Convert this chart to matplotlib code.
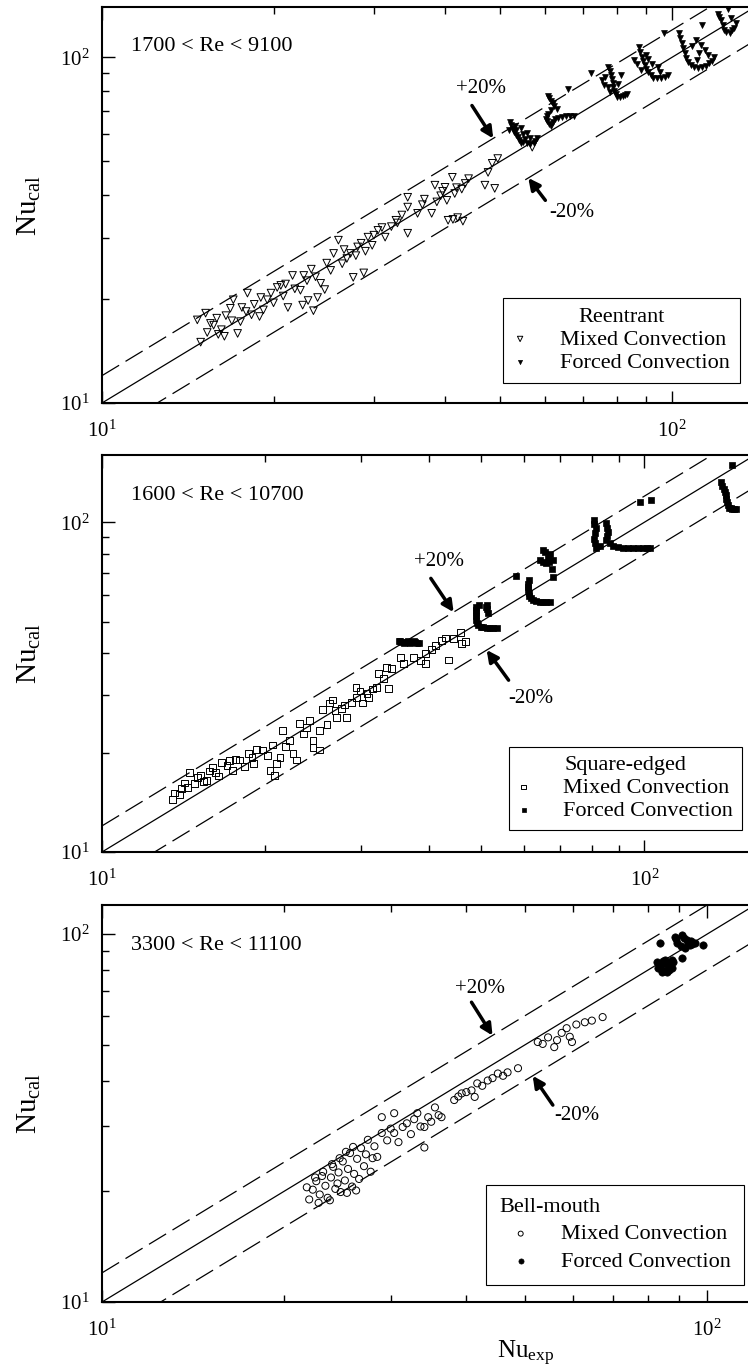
import numpy as np
import matplotlib
matplotlib.use("Agg")
import matplotlib.pyplot as plt
from matplotlib.ticker import LogLocator, NullFormatter

plt.rcParams['font.family'] = ['Liberation Serif', 'DejaVu Serif']
plt.rcParams['mathtext.fontset'] = 'custom'
plt.rcParams['mathtext.rm'] = 'Liberation Serif'
plt.rcParams['mathtext.it'] = 'Liberation Serif:italic'

# ---- Reentrant inlet ----
re_mixed_x = [14.9, 14.7, 15.2, 15.7, 15.3, 15.9, 16.2, 16.5, 16.8, 16.4, 17.0, 17.3, 17.5, 17.9,
              18.0, 18.5, 18.9, 19.5, 19.8, 20.3, 20.8, 21.2, 21.6, 21.0, 22.3, 22.5, 23.0, 22.9,
              23.3, 23.5, 23.9, 24.2, 24.6, 25.2, 25.5, 26.0, 26.4, 26.9, 27.3, 27.6, 28.1, 28.8,
              29.3, 29.8, 30.5, 31.4, 32.2, 33.0, 33.6, 34.4, 34.4, 34.4, 35.8, 36.5, 37.9, 38.4,
              38.7, 39.3, 40.0, 40.3, 40.5, 41.2, 41.6, 41.3, 42.1, 42.8, 43.4, 43.0, 47.0, 47.6,
              48.4, 48.9, 56.9,
              15.5, 16.0, 16.9, 17.6, 18.3, 19.0, 19.2, 20.0, 20.6, 21.8, 22.6, 23.7, 24.8, 26.6,
              27.9, 28.5, 29.0, 30.0, 31.0, 32.8, 36.8, 39.6, 41.9, 44.0, 49.5]
re_mixed_y = [15.0, 17.4, 18.2, 16.8, 16.0, 17.6, 16.3, 17.9, 18.8, 15.6, 19.9, 15.9, 17.2, 18.4,
              20.8, 19.3, 17.8, 19.9, 20.8, 21.6, 20.4, 18.9, 23.4, 22.1, 21.2, 19.2, 19.8, 22.6,
              24.4, 18.5, 20.2, 22.2, 21.3, 24.2, 27.1, 29.6, 25.3, 26.2, 27.1, 23.1, 28.3, 23.8,
              30.2, 28.6, 31.6, 30.2, 32.4, 33.2, 35.0, 39.4, 36.9, 31.0, 35.4, 37.5, 35.4, 42.7,
              38.2, 39.8, 42.1, 38.6, 33.8, 45.0, 40.4, 34.0, 34.4, 41.6, 43.2, 33.6, 42.7, 46.5,
              49.4, 41.8, 55.0,
              17.0, 15.8, 17.3, 18.9, 18.0, 20.2, 18.6, 19.5, 21.9, 21.4, 23.4, 23.2, 25.4, 27.8,
              26.7, 29.0, 27.5, 30.6, 32.2, 33.8, 38.9, 41.0, 42.0, 44.6, 51.0]
re_forced_x = [52.3, 52.9, 53.7, 54.4, 55.8, 57.2, 58.1, 54.4, 55.8,
               52.0, 52.6, 53.2, 53.9, 54.9, 56.5, 57.6, 53.0, 54.8, 56.3, 51.8, 53.3, 55.2,
               60.7, 61.5, 62.2, 60.7, 60.2, 60.9, 63.1, 65.2, 67.4, 65.8, 72.2,
               61.0, 61.9, 61.4, 60.4, 60.5, 61.8, 62.5, 64.2, 66.3, 62.9, 61.3,
               77.4, 78.2, 78.9, 79.1, 80.3, 82.1, 75.4, 77.4, 81.4, 83.6,
               77.8, 78.6, 79.0, 79.7, 81.2, 76.4, 78.0, 80.5, 82.8, 76.2,
               87.5, 88.6, 89.6, 91.0, 92.8, 95.9, 98.6, 86.0, 91.0, 94.7, 97.0,
               88.0, 89.1, 90.3, 91.9, 94.3, 97.2, 87.0, 88.3, 92.5, 95.5, 90.0,
               102.9, 104.3, 105.3, 106.6, 109.6, 113.0, 116.4, 110.1, 111.8, 114.4, 118.8, 113.0,
               103.6, 104.8, 106.0, 108.0, 111.3, 114.7, 108.5, 110.8, 116.0, 112.5, 117.5,
               120.6, 122.0, 123.5, 126.7, 125.7, 128.5, 121.2, 122.8, 124.5, 127.5, 127.0, 129.5]
re_forced_y = [63.6, 60.7, 58.7, 56.7, 56.4, 56.7, 58.3, 62.7, 60.3,
               65.0, 62.0, 59.8, 57.8, 56.9, 56.2, 57.5, 63.2, 60.2, 58.4, 61.5, 61.8, 58.0,
               77.6, 75.0, 72.6, 68.8, 66.5, 64.3, 67.0, 67.9, 67.9, 81.3, 89.9,
               76.5, 73.8, 70.4, 67.6, 65.4, 65.0, 66.5, 67.4, 67.8, 70.8, 63.2,
               93.6, 88.8, 84.1, 80.2, 76.6, 77.6, 85.9, 82.0, 88.8, 78.6,
               91.2, 86.5, 82.2, 78.4, 77.0, 88.0, 79.5, 84.0, 78.0, 83.5,
               106.9, 100.0, 95.0, 90.5, 87.5, 87.5, 88.8, 98.2, 99.3, 93.6, 117.4,
               103.5, 97.5, 92.7, 88.9, 87.4, 88.1, 95.5, 92.0, 96.0, 91.0, 102.0,
               117.4, 109.8, 102.9, 96.8, 93.6, 93.6, 96.1, 112.0, 102.9, 105.0, 100.0, 123.8,
               113.5, 106.2, 99.8, 95.0, 93.5, 94.5, 108.0, 98.5, 101.5, 109.0, 98.0,
               134.0, 128.0, 119.8, 117.4, 138.4, 122.1, 131.0, 123.8, 118.5, 120.0, 130.0, 126.0]

# ---- Square-edged inlet ----
sq_mixed_x = [13.5, 13.6, 13.9, 14.0, 14.2, 14.5, 14.8, 15.2, 15.4, 15.6, 15.8, 16.0, 16.4, 16.6,
              17.0, 17.4, 17.6, 17.9, 18.3, 18.9, 19.3, 19.8, 20.2, 20.6, 20.4, 20.8, 21.0, 21.5,
              21.8, 22.2, 22.5, 22.8, 23.1, 23.5, 24.1, 24.5, 24.5, 25.2, 25.2, 25.5, 26.0, 26.3,
              26.6, 27.1, 27.6, 28.2, 28.8, 29.4, 29.5, 30.2, 30.8, 31.5, 32.1, 32.4, 33.5, 33.8,
              34.2, 35.5, 36.0, 39.5, 39.5, 41.2, 42.3, 43.0, 43.5, 45.8, 46.0, 46.8,
              14.4, 15.0, 16.2, 17.2, 18.6, 19.0, 21.3, 23.8, 26.9, 28.0, 29.9, 31.0, 33.0, 37.5,
              38.6, 40.5, 44.5]
sq_mixed_y = [14.4, 15.1, 14.9, 15.6, 16.2, 17.4, 16.1, 17.1, 16.4, 16.5, 17.6, 18.0, 17.0, 18.7,
              18.3, 17.7, 19.1, 19.0, 18.2, 19.4, 20.5, 20.4, 19.6, 21.1, 17.7, 17.1, 18.6, 23.4,
              20.9, 21.8, 19.9, 19.0, 24.6, 22.8, 25.1, 21.8, 20.8, 23.4, 20.4, 27.0, 24.3, 28.3,
              28.9, 25.6, 27.2, 25.6, 28.4, 31.6, 29.5, 28.3, 30.3, 31.2, 31.6, 34.8, 36.3, 31.4,
              36.1, 39.0, 37.3, 40.1, 37.3, 42.4, 43.9, 44.6, 38.2, 46.4, 43.0, 43.6,
              15.7, 16.8, 17.4, 18.9, 19.9, 18.6, 19.4, 23.9, 26.8, 27.9, 30.8, 29.4, 33.5, 38.8,
              38.0, 41.2, 44.5]
sq_forced_x = [35.3, 35.8, 36.3, 36.8, 37.3, 37.8, 38.4, 35.5, 36.0, 36.6, 37.0, 37.6, 38.1,
               49.0, 49.0, 49.0, 49.4, 50.5, 52.0, 53.4, 51.2, 51.4,
               49.0, 49.0, 49.2, 49.9, 51.3, 52.7, 51.3, 51.0, 49.6,
               61.2, 60.9, 61.2, 61.7, 63.2, 65.0, 67.0, 65.0, 67.0, 64.2, 65.8, 67.8, 67.8, 58.0,
               61.0, 61.0, 61.4, 62.4, 64.1, 66.0, 65.5, 66.4, 66.8, 65.0, 67.5,
               80.6, 81.3, 80.6, 81.6, 85.1, 85.8, 85.1, 87.6, 91.4, 95.3, 99.5, 102.5, 98.3, 102.9,
               80.9, 81.0, 81.1, 85.5, 85.4, 86.3, 89.5, 93.3, 97.4, 101.0, 83.0,
               138.6, 140.0, 141.5, 141.8, 143.3, 145.2, 147.8, 145.2,
               139.3, 140.7, 141.6, 142.5, 144.2, 146.5]
sq_forced_y = [43.5, 43.4, 43.3, 43.3, 43.2, 43.2, 43.1, 43.6, 43.1, 43.6, 43.0, 43.5, 43.0,
               55.3, 53.1, 50.5, 48.7, 48.0, 47.7, 47.7, 56.1, 53.1,
               54.2, 51.8, 49.6, 48.3, 47.8, 47.7, 54.6, 55.5, 56.0,
               66.7, 63.6, 60.9, 58.8, 57.6, 57.3, 57.3, 82.3, 80.4, 76.7, 75.1, 76.7, 68.2, 68.9,
               65.2, 62.2, 59.8, 58.0, 57.4, 57.3, 81.3, 78.0, 75.8, 75.9, 72.0,
               101.6, 95.9, 89.2, 83.6, 99.5, 93.2, 88.2, 85.0, 83.6, 83.6, 83.6, 83.6, 115.0, 116.6,
               98.7, 92.5, 86.4, 96.3, 90.7, 86.5, 84.3, 83.6, 83.6, 83.6, 84.5,
               132.2, 126.4, 120.9, 115.0, 110.5, 110.0, 110.0, 148.8,
               129.3, 123.6, 118.0, 112.7, 110.2, 110.0]

# ---- Bell-mouth inlet ----
bm_mixed_x = [22.0, 22.3, 22.6, 22.9, 23.1, 23.4, 23.6, 23.9, 24.1, 24.3, 24.6, 24.8, 25.0, 25.2,
              25.5, 25.7, 25.9, 26.1, 26.4, 26.6, 26.8, 27.1, 27.3, 27.5, 27.8, 28.0, 28.2, 28.5,
              22.5, 23.2, 24.0, 24.7, 25.3, 26.0, 21.8, 22.8, 23.8, 24.5, 25.4, 26.3,
              29.0, 29.0, 29.6, 30.0, 30.4, 30.4, 30.9, 31.4, 31.9, 32.4, 32.8, 33.2, 33.6, 34.1,
              34.6, 35.0, 35.5, 36.0, 36.4, 34.1,
              38.2, 38.8, 39.3, 40.0, 40.8, 41.3, 41.7, 42.5, 43.4, 44.2, 45.1, 46.0, 46.8, 48.7,
              52.5, 53.5, 54.6, 55.9, 56.5, 57.5, 58.6, 59.3, 59.8, 60.8, 62.8, 64.5, 67.2]
bm_mixed_y = [19.0, 20.2, 21.3, 19.6, 22.0, 20.7, 19.2, 21.8, 23.3, 20.3, 22.5, 19.9, 24.1, 21.4,
              23.0, 25.4, 20.6, 22.3, 24.5, 21.6, 26.2, 23.4, 25.2, 27.6, 22.6, 24.6, 26.5, 24.8,
              21.8, 22.6, 23.7, 24.6, 25.6, 26.4, 20.5, 18.6, 18.9, 21.0, 19.8, 20.1,
              28.8, 31.8, 27.5, 29.6, 32.6, 28.8, 27.2, 29.9, 30.6, 28.6, 31.4, 32.6, 30.0, 29.9,
              31.8, 30.9, 33.8, 32.2, 31.8, 26.3,
              35.4, 36.2, 36.9, 37.2, 37.6, 36.1, 39.3, 38.7, 40.0, 40.6, 41.8, 41.2, 42.1, 43.2,
              50.9, 50.3, 52.4, 49.3, 51.5, 53.9, 55.5, 52.6, 50.9, 56.8, 57.6, 58.2, 59.5]
bm_forced_x = [82.6, 83.0, 84.3, 85.9, 87.5, 85.3, 87.5, 86.2, 84.0,
               88.4, 90.8, 92.6, 93.6, 95.5, 91.9, 89.1, 94.2,
               83.6, 98.5, 90.8,
               83.5, 85.0, 86.6, 84.5, 86.4, 89.0, 91.7, 93.1, 94.5, 90.5, 88.0]
bm_forced_y = [83.9, 80.8, 78.7, 78.7, 80.8, 85.0, 85.0, 82.0, 82.5,
               98.2, 99.4, 96.3, 93.3, 94.5, 91.6, 94.5, 96.0,
               94.5, 93.3, 86.0,
               82.3, 79.5, 79.8, 84.6, 83.5, 97.0, 97.8, 94.8, 93.8, 93.0, 84.0]

panels = [
    dict(top=7, bottom=403, lim=140, re_text='1700 < Re < 9100', name='Reentrant',
         mx=re_mixed_x, my=re_mixed_y, fx=re_forced_x, fy=re_forced_y,
         m_marker='v', f_marker='v', m_size=30, f_size=18,
         leg=dict(bbox_to_anchor=(0.977, 0.0505), alignment='center', handlelength=0.6,
                  handletextpad=1.5, borderpad=0.45, labelspacing=0.12),
         plus=((46.3, 81.3), (44.6, 72.6), (48.6, 58.3)),
         minus=((66.7, 35.6), (60.0, 38.6), (56.0, 44.8))),
    dict(top=455, bottom=852, lim=160, re_text='1600 < Re < 10700', name='Square-edged',
         mx=sq_mixed_x, my=sq_mixed_y, fx=sq_forced_x, fy=sq_forced_y,
         m_marker='s', f_marker='s', m_size=24, f_size=16,
         leg=dict(bbox_to_anchor=(0.980, 0.0554), alignment='center', handlelength=0.55,
                  handletextpad=1.5, borderpad=0.4, labelspacing=0.12),
         plus=((41.9, 76.2), (40.4, 67.6), (44.5, 53.4)),
         minus=((61.7, 29.3), (56.2, 33.2), (51.2, 41.0))),
    dict(top=905, bottom=1302, lim=120, re_text='3300 < Re < 11100', name='Bell-mouth',
         mx=bm_mixed_x, my=bm_mixed_y, fx=bm_forced_x, fy=bm_forced_y,
         m_marker='o', f_marker='o', m_size=26, f_size=28,
         leg=dict(bbox_to_anchor=(0.983, 0.0428), alignment='left', handlelength=1.9,
                  handletextpad=0.85, borderpad=0.6, labelspacing=0.3),
         plus=((42.1, 71.3), (40.8, 65.3), (44.2, 53.0)),
         minus=((60.9, 32.2), (55.6, 34.3), (51.5, 41.2))),
]

band = 0.2
W, H = 748, 1371
fig = plt.figure(figsize=(W / 100, H / 100), dpi=100)

for i, p in enumerate(panels):
    left, right = 102, 755
    ax = fig.add_axes([left / W, (H - p['bottom']) / H, (right - left) / W,
                       (p['bottom'] - p['top']) / H])
    ax.set_xscale('log')
    ax.set_yscale('log')
    lim = p['lim']
    ax.set_xlim(10, lim)
    ax.set_ylim(10, lim)

    xs = np.array([10, lim])
    ax.plot(xs, xs, color='k', lw=0.9, zorder=2)
    ax.plot(xs, (1 + band) * xs, color='k', lw=0.9, dashes=(16, 6), zorder=2)
    ax.plot(xs, (1 - band) * xs, color='k', lw=0.9, dashes=(16, 6), zorder=2)

    hm = ax.scatter(p['mx'], p['my'], marker=p['m_marker'], s=p['m_size'],
                    facecolors='none', edgecolors='k', linewidths=0.7, zorder=3)
    hf = ax.scatter(p['fx'], p['fy'], marker=p['f_marker'], s=p['f_size'],
                    facecolors='k', edgecolors='k', linewidths=0.5, zorder=3)

    ax.text(0.045, 0.899, p['re_text'], transform=ax.transAxes, fontsize=16,
            ha='left', va='center')

    # +/-20% labels with arrows pointing to the dashed lines
    for lbl, (txt, tail, head) in (('+20%', p['plus']), ('-20%', p['minus'])):
        ax.text(txt[0], txt[1], lbl, fontsize=15, ha='center', va='center')
        ax.annotate('', xy=head, xytext=tail,
                    arrowprops=dict(arrowstyle='-|>', color='k', lw=2.5,
                                    mutation_scale=17, shrinkA=0, shrinkB=0))

    leg = ax.legend([hm, hf], ['Mixed Convection', 'Forced Convection'], title=p['name'],
                    loc='lower right', borderaxespad=0, fancybox=False, edgecolor='k',
                    framealpha=1, fontsize=16, title_fontsize=16, markerscale=0.7,
                    scatterpoints=1, **p['leg'])
    leg.get_frame().set_linewidth(0.8)

    ax.xaxis.set_major_locator(LogLocator(base=10))
    ax.yaxis.set_major_locator(LogLocator(base=10))
    ax.xaxis.set_minor_locator(LogLocator(base=10, subs=np.arange(2, 10)))
    ax.yaxis.set_minor_locator(LogLocator(base=10, subs=np.arange(2, 10)))
    ax.xaxis.set_minor_formatter(NullFormatter())
    ax.yaxis.set_minor_formatter(NullFormatter())
    ax.tick_params(which='both', direction='in', top=True, right=False,
                   labelsize=15, width=1)
    ax.tick_params(which='major', length=9)
    ax.tick_params(which='minor', length=5)
    ax.tick_params(axis='x', pad=13)
    ax.tick_params(axis='y', pad=9)
    for s in ax.spines.values():
        s.set_linewidth(1.5)

    ax.set_ylabel(r'Nu$_{\mathrm{cal}}$', fontsize=21)
    ax.yaxis.set_label_coords(-0.09, 0.5)
    if i == 2:
        ax.set_xlabel(r'Nu$_{\mathrm{exp}}$', fontsize=18)
        ax.xaxis.set_label_coords(0.649, -0.093)

fig.savefig('out.png', dpi=100)
